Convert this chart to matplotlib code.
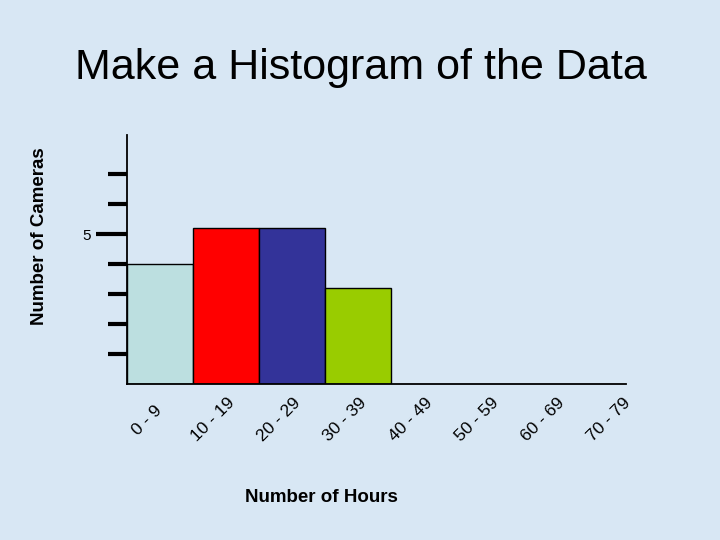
import matplotlib
matplotlib.use("Agg")
import matplotlib.pyplot as plt
import numpy as np

# histogram data
bins = ["0 - 9", "10 - 19", "20 - 29", "30 - 39", "40 - 49", "50 - 59", "60 - 69", "70 - 79"]
counts = [4, 5.2, 5.2, 3.2, 0, 0, 0, 0]
bar_colors = ["#bcdfe0", "#ff0000", "#333399", "#99cc00", "none", "none", "none", "none"]
labeled_ticks = [5]
plain_ticks = [1, 2, 3, 4, 6, 7]

BG = "#d8e7f4"
plt.rcParams["font.family"] = ["Liberation Sans", "DejaVu Sans"]


def main():
    fig = plt.figure(figsize=(7.2, 5.4), dpi=100)
    fig.patch.set_facecolor(BG)
    ax = fig.add_axes([127 / 720, 156 / 540, 499 / 720, 249 / 540])
    ax.set_facecolor("none")

    x = np.arange(len(bins))
    for xi, c, col in zip(x, counts, bar_colors):
        if c > 0:
            ax.bar(xi, c, width=1.0, align="edge", color=col, edgecolor="black", linewidth=1.0, zorder=2)

    ax.set_xlim(0, 7.56)
    ax.set_ylim(0, 8.3)

    for s in ["top", "right"]:
        ax.spines[s].set_visible(False)
    for s in ["left", "bottom"]:
        ax.spines[s].set_color("black")
        ax.spines[s].set_linewidth(1.3)

    ax.set_yticks(labeled_ticks)
    ax.set_yticklabels([str(v) for v in labeled_ticks], fontsize=11)
    ax.set_yticks(plain_ticks, minor=True)
    ax.tick_params(axis="y", which="major", length=22, width=3, pad=4, color="black")
    ax.tick_params(axis="y", which="minor", length=14, width=3, color="black")
    ax.set_xticks([])

    for xi, lab in zip(x, bins):
        ax.annotate(lab, xy=(xi + 0.5, 0), xycoords="data", xytext=(-13, -36),
                    textcoords="offset pixels", rotation=45, rotation_mode="anchor",
                    ha="center", va="center", fontsize=12.5)

    fig.text(321 / 720, 1 - 497 / 540, "Number of Hours", ha="center", va="center",
             fontsize=13.5, fontweight="bold")
    fig.text(40 / 720, 1 - 236 / 540, "Number of Cameras", ha="center", va="center",
             rotation=90, fontsize=13.5, fontweight="bold")
    fig.text(361 / 720, 1 - 68 / 540, "Make a Histogram of the Data", ha="center", va="center",
             fontsize=31)

    fig.savefig("out.png", dpi=100, facecolor=BG)
    plt.close(fig)


if __name__ == "__main__":
    main()
